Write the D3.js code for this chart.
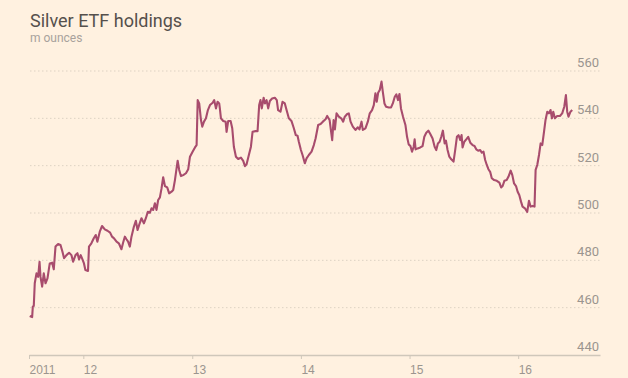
<!DOCTYPE html>
<html>
<head>
	<meta charset="utf-8">
	<script src="https://cdn.jsdelivr.net/npm/d3@7"></script>
	<style>
		body { margin: 0; background: #fff1e0; }
		svg { display: block; font-family: Roboto, "Liberation Sans", sans-serif; }
		.line { fill: none; stroke: #a84c6d; stroke-width: 2.1; stroke-linejoin: round; }
		.grid line { stroke: #ddd2c3; stroke-dasharray: 1.5, 2.5; }
		.ylab { font-size: 13px; fill: #9b958f; }
		.xaxis text { font-size: 12px; fill: #9b958f; }
		.xaxis line, .xaxis path { stroke: #cfc7ba; }
	</style>
</head>
<body>
	<svg></svg>
	<script>
		// decimal years (time) and holdings in m ounces
		var yearFrac = [
			2011.507, 2011.529, 2011.535, 2011.544, 2011.553, 2011.569, 2011.584, 2011.597, 2011.606, 2011.621, 2011.636, 2011.652, 2011.670, 2011.691, 2011.713, 2011.728, 2011.744, 2011.768, 2011.790, 2011.808, 2011.823, 2011.845, 2011.869, 2011.891, 2011.906, 2011.928, 2011.946, 2011.961, 2011.976, 2011.992,
			2012.006, 2012.019, 2012.043, 2012.052, 2012.074, 2012.096, 2012.114, 2012.129, 2012.151, 2012.172, 2012.197, 2012.222, 2012.246, 2012.264, 2012.282, 2012.305, 2012.326, 2012.350, 2012.365, 2012.381, 2012.396, 2012.411, 2012.427, 2012.442, 2012.464, 2012.482, 2012.498, 2012.512, 2012.534, 2012.556, 2012.574, 2012.592, 2012.611, 2012.626, 2012.641, 2012.657, 2012.672, 2012.687, 2012.703, 2012.718, 2012.733, 2012.749, 2012.770, 2012.788, 2012.810, 2012.825, 2012.841, 2012.856, 2012.866, 2012.880, 2012.896, 2012.917, 2012.942, 2012.963, 2012.979,
			2013.003, 2013.025, 2013.040, 2013.050, 2013.064, 2013.080, 2013.092, 2013.108, 2013.126, 2013.144, 2013.163, 2013.188, 2013.202, 2013.218, 2013.233, 2013.248, 2013.254, 2013.264, 2013.285, 2013.307, 2013.316, 2013.331, 2013.353, 2013.368, 2013.383, 2013.402, 2013.423, 2013.448, 2013.469, 2013.485, 2013.500, 2013.521, 2013.540, 2013.555, 2013.583, 2013.601, 2013.616, 2013.628, 2013.640, 2013.657, 2013.669, 2013.684, 2013.699, 2013.714, 2013.735, 2013.760, 2013.778, 2013.790, 2013.812, 2013.831, 2013.852, 2013.868, 2013.889, 2013.913, 2013.935, 2013.953, 2013.969, 2013.981,
			2014.000, 2014.015, 2014.036, 2014.052, 2014.073, 2014.098, 2014.119, 2014.135, 2014.159, 2014.181, 2014.202, 2014.227, 2014.242, 2014.264, 2014.288, 2014.301, 2014.313, 2014.328, 2014.349, 2014.371, 2014.389, 2014.404, 2014.426, 2014.441, 2014.457, 2014.478, 2014.502, 2014.524, 2014.539, 2014.558, 2014.570, 2014.594, 2014.616, 2014.634, 2014.655, 2014.671, 2014.686, 2014.698, 2014.711, 2014.726, 2014.742, 2014.754, 2014.769, 2014.784, 2014.809, 2014.830, 2014.846, 2014.864, 2014.879, 2014.894, 2014.907, 2014.921, 2014.940, 2014.962, 2014.977, 2014.992,
			2015.008, 2015.023, 2015.038, 2015.047, 2015.056, 2015.075, 2015.099, 2015.120, 2015.136, 2015.154, 2015.173, 2015.191, 2015.212, 2015.231, 2015.246, 2015.261, 2015.277, 2015.292, 2015.307, 2015.323, 2015.335, 2015.350, 2015.366, 2015.384, 2015.405, 2015.421, 2015.436, 2015.451, 2015.467, 2015.479, 2015.488, 2015.504, 2015.522, 2015.540, 2015.559, 2015.580, 2015.598, 2015.614, 2015.632, 2015.650, 2015.665, 2015.681, 2015.696, 2015.711, 2015.726, 2015.742, 2015.757, 2015.779, 2015.803, 2015.827, 2015.843, 2015.857, 2015.873, 2015.894, 2015.910, 2015.931, 2015.946, 2015.962, 2015.980, 2015.995,
			2016.010, 2016.026, 2016.040, 2016.062, 2016.083, 2016.099, 2016.114, 2016.132, 2016.150, 2016.160, 2016.175, 2016.191, 2016.206, 2016.221, 2016.237, 2016.251, 2016.267, 2016.282, 2016.297, 2016.310, 2016.322, 2016.337, 2016.358, 2016.383, 2016.404, 2016.423, 2016.438, 2016.450, 2016.462, 2016.480, 2016.496
		];
		var holdings = [
			456.5, 456.0, 460.4, 460.7, 470.3, 474.5, 473.0, 479.4, 473.0, 468.9, 474.5, 470.3, 472.4, 478.7, 479.0, 476.2, 485.8, 486.9, 486.5, 483.6, 480.9, 482.2, 483.2, 482.2, 479.4, 482.2, 483.0, 480.4, 482.2, 480.4,
			478.7, 475.9, 475.5, 485.8, 487.2, 489.3, 490.7, 487.9, 492.1, 494.5, 493.1, 492.5, 491.7, 490.0, 489.3, 487.9, 487.2, 484.7, 487.4, 490.0, 488.9, 487.9, 485.8, 490.0, 494.2, 496.7, 492.8, 494.9, 497.8, 495.6, 497.8, 500.5, 500.1, 502.0, 501.3, 504.1, 501.3, 505.5, 506.6, 510.4, 515.1, 511.4, 510.8, 508.3, 509.0, 509.7, 513.9, 518.9, 522.1, 518.2, 515.6, 516.0, 516.8, 518.5, 523.8,
			525.9, 527.7, 528.7, 547.7, 546.3, 539.3, 536.5, 538.6, 540.0, 543.5, 545.6, 546.6, 547.7, 544.2, 547.0, 546.3, 544.2, 540.0, 538.9, 538.6, 534.3, 538.9, 538.9, 535.8, 528.0, 523.8, 522.8, 523.4, 522.0, 519.8, 520.6, 524.5, 528.0, 534.3, 534.6, 534.6, 545.6, 547.7, 544.2, 548.7, 546.3, 547.7, 544.2, 547.3, 548.4, 548.7, 547.7, 543.5, 542.8, 547.0, 546.3, 543.5, 540.0, 538.9, 535.8, 532.9, 532.6, 530.1,
			526.6, 524.5, 521.0, 523.1, 524.5, 525.9, 528.7, 531.5, 537.2, 537.6, 538.6, 539.6, 541.0, 539.3, 530.8, 539.3, 535.3, 542.1, 540.7, 540.0, 538.6, 540.7, 541.8, 542.1, 538.6, 536.5, 535.1, 536.2, 535.3, 538.6, 535.1, 535.8, 538.6, 542.1, 543.5, 545.6, 550.6, 547.0, 550.8, 552.0, 555.5, 551.2, 546.3, 544.9, 544.6, 544.6, 546.3, 549.1, 550.1, 547.7, 550.3, 544.2, 540.7, 537.2, 532.2, 529.0,
			528.3, 525.9, 528.0, 531.1, 526.9, 527.3, 527.7, 528.3, 532.2, 533.9, 534.8, 533.4, 531.5, 528.0, 526.6, 529.4, 530.1, 532.2, 534.8, 529.4, 530.6, 526.6, 523.8, 522.7, 521.7, 526.9, 532.2, 532.9, 530.8, 532.9, 527.7, 530.1, 531.1, 532.2, 529.7, 528.7, 528.3, 526.9, 526.3, 526.6, 525.5, 525.9, 522.4, 520.3, 518.5, 517.4, 514.7, 513.9, 513.6, 512.8, 510.8, 511.4, 513.6, 513.9, 515.3, 517.9, 516.0, 512.5, 511.4, 509.0,
			507.6, 504.8, 502.7, 502.0, 500.5, 505.2, 502.7, 503.0, 502.7, 518.2, 520.3, 524.5, 529.4, 528.7, 534.3, 539.3, 542.8, 542.1, 543.5, 540.0, 542.8, 540.0, 541.0, 541.0, 542.1, 544.9, 549.8, 542.8, 540.7, 542.8, 543.5
		];
		var xTickYears = [2011.5, 2012, 2013, 2014, 2015, 2016];
		var xTickLabels = ["2011", "12", "13", "14", "15", "16"];
		var yTicks = [440, 460, 480, 500, 520, 540, 560];

		var width = 628, height = 378;
		var margins = { left: 29, right: 28, top: 71, bottom: 23 };

		function toDate(y) {
			var yr = Math.floor(y);
			var start = new Date(yr, 0, 1), end = new Date(yr + 1, 0, 1);
			return new Date(+start + (y - yr) * (end - start));
		}

		var data = yearFrac.map((y, i) => ({ date: toDate(y), value: holdings[i] }));

		var svg = d3.select("svg")
			.attr("width", width)
			.attr("height", height);

		var x = d3.scaleTime()
			.domain([toDate(2011.5), toDate(2016.751)])
			.range([margins.left, width - margins.right]);
		var y = d3.scaleLinear()
			.domain([440, 560])
			.range([height - margins.bottom, margins.top]);

		// title
		svg.append("text")
			.attr("x", 30).attr("y", 26.5)
			.style("font-size", "18px").style("fill", "#55504c")
			.text("Silver ETF holdings");
		svg.append("text")
			.attr("x", 30).attr("y", 42)
			.style("font-size", "12px").style("fill", "#a8a29c")
			.text("m ounces");

		// dotted gridlines + labels on the right
		var grid = svg.append("g").attr("class", "grid");
		grid.selectAll("line")
			.data(yTicks.filter(d => d > 440))
			.join("line")
			.attr("x1", margins.left + 1)
			.attr("x2", width - margins.right)
			.attr("y1", d => y(d))
			.attr("y2", d => y(d));
		svg.selectAll(".ylab")
			.data(yTicks)
			.join("text")
			.attr("class", "ylab")
			.attr("x", width - margins.right - 1)
			.attr("y", d => y(d) - 4)
			.attr("text-anchor", "end")
			.text(d => d);

		// x axis
		var xAxis = d3.axisBottom(x)
			.tickValues(xTickYears.map(toDate))
			.tickFormat((d, i) => xTickLabels[i])
			.tickSize(4)
			.tickSizeOuter(0);
		svg.append("g")
			.attr("class", "xaxis")
			.attr("transform", "translate(0," + (height - margins.bottom) + ")")
			.call(xAxis)
			.call(g => g.select(".domain").attr("stroke-width", 1.5))
			.call(g => g.selectAll(".tick text")
				.attr("text-anchor", "start")
				.attr("x", 0)
				.attr("dy", null)
				.attr("y", 19));

		// the line
		var line = d3.line()
			.x(d => x(d.date))
			.y(d => y(d.value));
		svg.append("path")
			.datum(data)
			.attr("class", "line")
			.attr("d", line);
	</script>
</body>
</html>
